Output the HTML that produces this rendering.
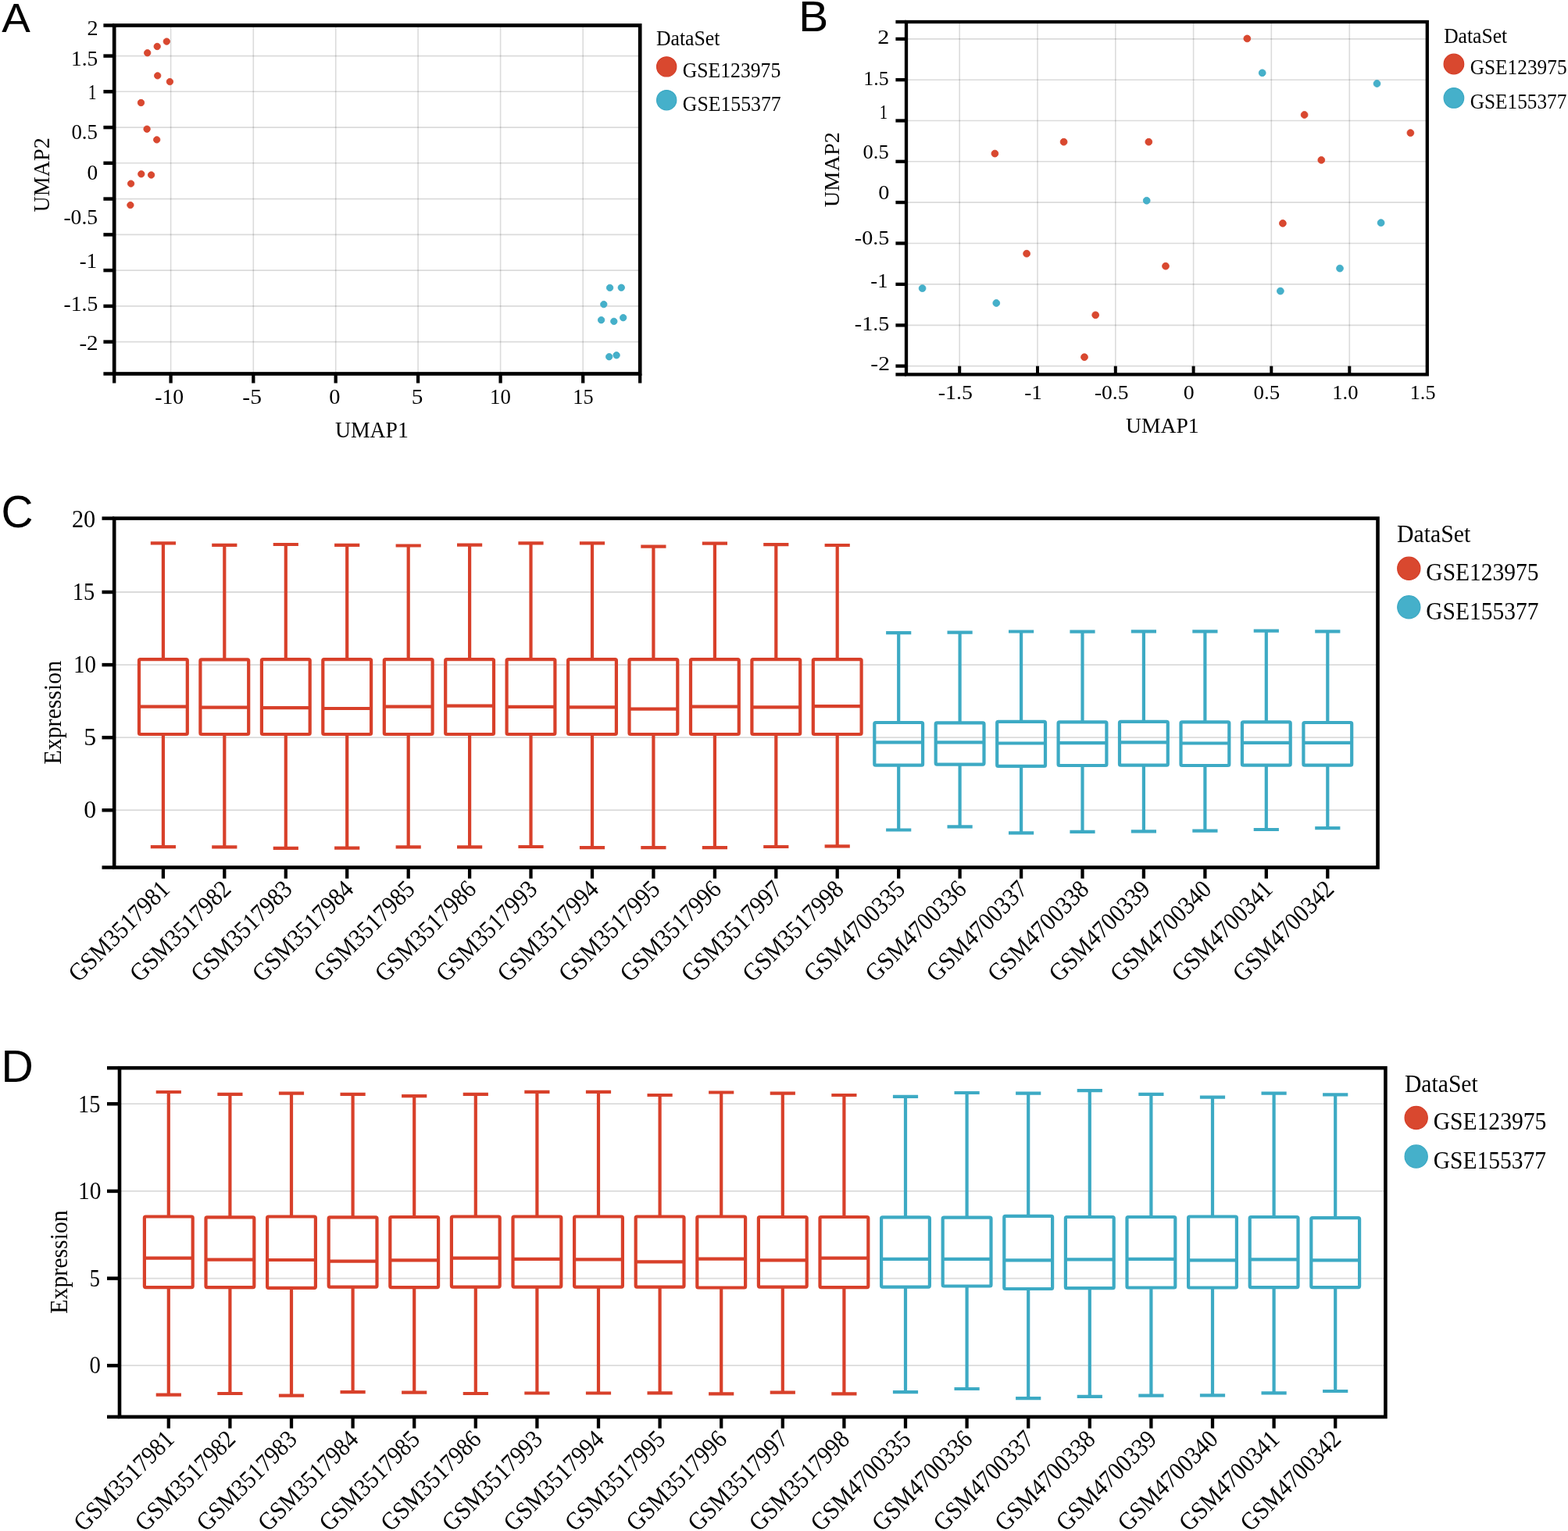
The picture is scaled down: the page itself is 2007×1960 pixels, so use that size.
<!DOCTYPE html>
<html><head><meta charset="utf-8"><title>Figure</title>
<style>
html,body{margin:0;padding:0;background:#fff;}
body{width:2007px;height:1960px;overflow:hidden;}
svg{display:block;}
text{fill:#000;}
</style></head>
<body>
<svg width="2007" height="1960" viewBox="0 0 2007 1960">
<rect x="0" y="0" width="2007" height="1960" fill="#fff"/>
<line x1="146.2" y1="71.6" x2="819.2" y2="71.6" stroke="rgba(0,0,0,0.14)" stroke-width="1.6" stroke-linecap="butt"/>
<line x1="146.2" y1="117.3" x2="819.2" y2="117.3" stroke="rgba(0,0,0,0.14)" stroke-width="1.6" stroke-linecap="butt"/>
<line x1="146.2" y1="163.1" x2="819.2" y2="163.1" stroke="rgba(0,0,0,0.14)" stroke-width="1.6" stroke-linecap="butt"/>
<line x1="146.2" y1="208.8" x2="819.2" y2="208.8" stroke="rgba(0,0,0,0.14)" stroke-width="1.6" stroke-linecap="butt"/>
<line x1="146.2" y1="254.6" x2="819.2" y2="254.6" stroke="rgba(0,0,0,0.14)" stroke-width="1.6" stroke-linecap="butt"/>
<line x1="146.2" y1="300.4" x2="819.2" y2="300.4" stroke="rgba(0,0,0,0.14)" stroke-width="1.6" stroke-linecap="butt"/>
<line x1="146.2" y1="346.1" x2="819.2" y2="346.1" stroke="rgba(0,0,0,0.14)" stroke-width="1.6" stroke-linecap="butt"/>
<line x1="146.2" y1="391.9" x2="819.2" y2="391.9" stroke="rgba(0,0,0,0.14)" stroke-width="1.6" stroke-linecap="butt"/>
<line x1="146.2" y1="437.6" x2="819.2" y2="437.6" stroke="rgba(0,0,0,0.14)" stroke-width="1.6" stroke-linecap="butt"/>
<line x1="218.6" y1="32.5" x2="218.6" y2="478.5" stroke="rgba(0,0,0,0.14)" stroke-width="1.6" stroke-linecap="butt"/>
<line x1="324.3" y1="32.5" x2="324.3" y2="478.5" stroke="rgba(0,0,0,0.14)" stroke-width="1.6" stroke-linecap="butt"/>
<line x1="429.7" y1="32.5" x2="429.7" y2="478.5" stroke="rgba(0,0,0,0.14)" stroke-width="1.6" stroke-linecap="butt"/>
<line x1="535.1" y1="32.5" x2="535.1" y2="478.5" stroke="rgba(0,0,0,0.14)" stroke-width="1.6" stroke-linecap="butt"/>
<line x1="640.6" y1="32.5" x2="640.6" y2="478.5" stroke="rgba(0,0,0,0.14)" stroke-width="1.6" stroke-linecap="butt"/>
<line x1="746.2" y1="32.5" x2="746.2" y2="478.5" stroke="rgba(0,0,0,0.14)" stroke-width="1.6" stroke-linecap="butt"/>
<line x1="132.4" y1="32.5" x2="146.2" y2="32.5" stroke="#000" stroke-width="4.5" stroke-linecap="butt"/>
<line x1="132.4" y1="71.6" x2="146.2" y2="71.6" stroke="#000" stroke-width="4.5" stroke-linecap="butt"/>
<line x1="132.4" y1="117.3" x2="146.2" y2="117.3" stroke="#000" stroke-width="4.5" stroke-linecap="butt"/>
<line x1="132.4" y1="163.1" x2="146.2" y2="163.1" stroke="#000" stroke-width="4.5" stroke-linecap="butt"/>
<line x1="132.4" y1="208.8" x2="146.2" y2="208.8" stroke="#000" stroke-width="4.5" stroke-linecap="butt"/>
<line x1="132.4" y1="254.6" x2="146.2" y2="254.6" stroke="#000" stroke-width="4.5" stroke-linecap="butt"/>
<line x1="132.4" y1="300.4" x2="146.2" y2="300.4" stroke="#000" stroke-width="4.5" stroke-linecap="butt"/>
<line x1="132.4" y1="346.1" x2="146.2" y2="346.1" stroke="#000" stroke-width="4.5" stroke-linecap="butt"/>
<line x1="132.4" y1="391.9" x2="146.2" y2="391.9" stroke="#000" stroke-width="4.5" stroke-linecap="butt"/>
<line x1="132.4" y1="437.6" x2="146.2" y2="437.6" stroke="#000" stroke-width="4.5" stroke-linecap="butt"/>
<line x1="132.4" y1="478.5" x2="146.2" y2="478.5" stroke="#000" stroke-width="4.5" stroke-linecap="butt"/>
<line x1="146.2" y1="478.5" x2="146.2" y2="490.5" stroke="#000" stroke-width="4.3" stroke-linecap="butt"/>
<line x1="218.6" y1="478.5" x2="218.6" y2="490.5" stroke="#000" stroke-width="4.3" stroke-linecap="butt"/>
<line x1="324.3" y1="478.5" x2="324.3" y2="490.5" stroke="#000" stroke-width="4.3" stroke-linecap="butt"/>
<line x1="429.7" y1="478.5" x2="429.7" y2="490.5" stroke="#000" stroke-width="4.3" stroke-linecap="butt"/>
<line x1="535.1" y1="478.5" x2="535.1" y2="490.5" stroke="#000" stroke-width="4.3" stroke-linecap="butt"/>
<line x1="640.6" y1="478.5" x2="640.6" y2="490.5" stroke="#000" stroke-width="4.3" stroke-linecap="butt"/>
<line x1="746.2" y1="478.5" x2="746.2" y2="490.5" stroke="#000" stroke-width="4.3" stroke-linecap="butt"/>
<line x1="819.2" y1="478.5" x2="819.2" y2="490.5" stroke="#000" stroke-width="4.3" stroke-linecap="butt"/>
<rect x="146.2" y="32.5" width="673.0" height="446.0" fill="none" stroke="#000" stroke-width="4.7"/>
<circle cx="853.2" cy="85.4" r="12.6" fill="#d9482f" stroke="#d43d27" stroke-width="1.2"/>
<circle cx="853.2" cy="128.2" r="12.6" fill="#45b0ca" stroke="#3aa8c3" stroke-width="1.2"/>
<circle cx="188.7" cy="67.7" r="4.2" fill="#d9482f" stroke="#d43d27" stroke-width="0.8"/>
<circle cx="201.2" cy="59.5" r="4.2" fill="#d9482f" stroke="#d43d27" stroke-width="0.8"/>
<circle cx="213.3" cy="53.1" r="4.2" fill="#d9482f" stroke="#d43d27" stroke-width="0.8"/>
<circle cx="201.7" cy="96.9" r="4.2" fill="#d9482f" stroke="#d43d27" stroke-width="0.8"/>
<circle cx="217.4" cy="104.6" r="4.2" fill="#d9482f" stroke="#d43d27" stroke-width="0.8"/>
<circle cx="180.5" cy="131.5" r="4.2" fill="#d9482f" stroke="#d43d27" stroke-width="0.8"/>
<circle cx="188.1" cy="165.2" r="4.2" fill="#d9482f" stroke="#d43d27" stroke-width="0.8"/>
<circle cx="200.7" cy="178.9" r="4.2" fill="#d9482f" stroke="#d43d27" stroke-width="0.8"/>
<circle cx="180.8" cy="222.8" r="4.2" fill="#d9482f" stroke="#d43d27" stroke-width="0.8"/>
<circle cx="193.6" cy="224.0" r="4.2" fill="#d9482f" stroke="#d43d27" stroke-width="0.8"/>
<circle cx="167.6" cy="235.1" r="4.2" fill="#d9482f" stroke="#d43d27" stroke-width="0.8"/>
<circle cx="166.9" cy="262.6" r="4.2" fill="#d9482f" stroke="#d43d27" stroke-width="0.8"/>
<circle cx="780.6" cy="368.4" r="4.2" fill="#45b0ca" stroke="#3aa8c3" stroke-width="0.8"/>
<circle cx="795.3" cy="368.2" r="4.2" fill="#45b0ca" stroke="#3aa8c3" stroke-width="0.8"/>
<circle cx="772.8" cy="389.6" r="4.2" fill="#45b0ca" stroke="#3aa8c3" stroke-width="0.8"/>
<circle cx="769.6" cy="409.7" r="4.2" fill="#45b0ca" stroke="#3aa8c3" stroke-width="0.8"/>
<circle cx="785.8" cy="411.4" r="4.2" fill="#45b0ca" stroke="#3aa8c3" stroke-width="0.8"/>
<circle cx="797.7" cy="406.7" r="4.2" fill="#45b0ca" stroke="#3aa8c3" stroke-width="0.8"/>
<circle cx="779.7" cy="456.7" r="4.2" fill="#45b0ca" stroke="#3aa8c3" stroke-width="0.8"/>
<circle cx="789.1" cy="454.8" r="4.2" fill="#45b0ca" stroke="#3aa8c3" stroke-width="0.8"/>
<line x1="1160.0" y1="49.9" x2="1826.8" y2="49.9" stroke="rgba(0,0,0,0.14)" stroke-width="1.6" stroke-linecap="butt"/>
<line x1="1160.0" y1="102.2" x2="1826.8" y2="102.2" stroke="rgba(0,0,0,0.14)" stroke-width="1.6" stroke-linecap="butt"/>
<line x1="1160.0" y1="154.5" x2="1826.8" y2="154.5" stroke="rgba(0,0,0,0.14)" stroke-width="1.6" stroke-linecap="butt"/>
<line x1="1160.0" y1="206.8" x2="1826.8" y2="206.8" stroke="rgba(0,0,0,0.14)" stroke-width="1.6" stroke-linecap="butt"/>
<line x1="1160.0" y1="259.1" x2="1826.8" y2="259.1" stroke="rgba(0,0,0,0.14)" stroke-width="1.6" stroke-linecap="butt"/>
<line x1="1160.0" y1="311.5" x2="1826.8" y2="311.5" stroke="rgba(0,0,0,0.14)" stroke-width="1.6" stroke-linecap="butt"/>
<line x1="1160.0" y1="363.9" x2="1826.8" y2="363.9" stroke="rgba(0,0,0,0.14)" stroke-width="1.6" stroke-linecap="butt"/>
<line x1="1160.0" y1="416.4" x2="1826.8" y2="416.4" stroke="rgba(0,0,0,0.14)" stroke-width="1.6" stroke-linecap="butt"/>
<line x1="1160.0" y1="468.6" x2="1826.8" y2="468.6" stroke="rgba(0,0,0,0.14)" stroke-width="1.6" stroke-linecap="butt"/>
<line x1="1228.2" y1="28.0" x2="1228.2" y2="479.4" stroke="rgba(0,0,0,0.14)" stroke-width="1.6" stroke-linecap="butt"/>
<line x1="1328.0" y1="28.0" x2="1328.0" y2="479.4" stroke="rgba(0,0,0,0.14)" stroke-width="1.6" stroke-linecap="butt"/>
<line x1="1427.8" y1="28.0" x2="1427.8" y2="479.4" stroke="rgba(0,0,0,0.14)" stroke-width="1.6" stroke-linecap="butt"/>
<line x1="1527.6" y1="28.0" x2="1527.6" y2="479.4" stroke="rgba(0,0,0,0.14)" stroke-width="1.6" stroke-linecap="butt"/>
<line x1="1627.3" y1="28.0" x2="1627.3" y2="479.4" stroke="rgba(0,0,0,0.14)" stroke-width="1.6" stroke-linecap="butt"/>
<line x1="1727.3" y1="28.0" x2="1727.3" y2="479.4" stroke="rgba(0,0,0,0.14)" stroke-width="1.6" stroke-linecap="butt"/>
<line x1="1146.4" y1="28.0" x2="1160.0" y2="28.0" stroke="#000" stroke-width="4.3" stroke-linecap="butt"/>
<line x1="1146.4" y1="49.9" x2="1160.0" y2="49.9" stroke="#000" stroke-width="4.3" stroke-linecap="butt"/>
<line x1="1146.4" y1="102.2" x2="1160.0" y2="102.2" stroke="#000" stroke-width="4.3" stroke-linecap="butt"/>
<line x1="1146.4" y1="154.5" x2="1160.0" y2="154.5" stroke="#000" stroke-width="4.3" stroke-linecap="butt"/>
<line x1="1146.4" y1="206.8" x2="1160.0" y2="206.8" stroke="#000" stroke-width="4.3" stroke-linecap="butt"/>
<line x1="1146.4" y1="259.1" x2="1160.0" y2="259.1" stroke="#000" stroke-width="4.3" stroke-linecap="butt"/>
<line x1="1146.4" y1="311.5" x2="1160.0" y2="311.5" stroke="#000" stroke-width="4.3" stroke-linecap="butt"/>
<line x1="1146.4" y1="363.9" x2="1160.0" y2="363.9" stroke="#000" stroke-width="4.3" stroke-linecap="butt"/>
<line x1="1146.4" y1="416.4" x2="1160.0" y2="416.4" stroke="#000" stroke-width="4.3" stroke-linecap="butt"/>
<line x1="1146.4" y1="468.6" x2="1160.0" y2="468.6" stroke="#000" stroke-width="4.3" stroke-linecap="butt"/>
<line x1="1146.4" y1="479.4" x2="1160.0" y2="479.4" stroke="#000" stroke-width="4.3" stroke-linecap="butt"/>
<line x1="1228.2" y1="479.4" x2="1228.2" y2="468.7" stroke="#000" stroke-width="4.0" stroke-linecap="butt"/>
<line x1="1328.0" y1="479.4" x2="1328.0" y2="468.7" stroke="#000" stroke-width="4.0" stroke-linecap="butt"/>
<line x1="1427.8" y1="479.4" x2="1427.8" y2="468.7" stroke="#000" stroke-width="4.0" stroke-linecap="butt"/>
<line x1="1527.6" y1="479.4" x2="1527.6" y2="468.7" stroke="#000" stroke-width="4.0" stroke-linecap="butt"/>
<line x1="1627.3" y1="479.4" x2="1627.3" y2="468.7" stroke="#000" stroke-width="4.0" stroke-linecap="butt"/>
<line x1="1727.3" y1="479.4" x2="1727.3" y2="468.7" stroke="#000" stroke-width="4.0" stroke-linecap="butt"/>
<rect x="1160.0" y="28.0" width="666.8" height="451.4" fill="none" stroke="#000" stroke-width="4.3"/>
<circle cx="1860.9" cy="82.0" r="12.8" fill="#d9482f" stroke="#d43d27" stroke-width="1.2"/>
<circle cx="1860.9" cy="125.4" r="12.8" fill="#45b0ca" stroke="#3aa8c3" stroke-width="1.2"/>
<circle cx="1273.4" cy="196.6" r="4.4" fill="#d9482f" stroke="#d43d27" stroke-width="0.8"/>
<circle cx="1361.6" cy="181.7" r="4.4" fill="#d9482f" stroke="#d43d27" stroke-width="0.8"/>
<circle cx="1470.3" cy="181.7" r="4.4" fill="#d9482f" stroke="#d43d27" stroke-width="0.8"/>
<circle cx="1314.1" cy="324.7" r="4.4" fill="#d9482f" stroke="#d43d27" stroke-width="0.8"/>
<circle cx="1492.0" cy="340.7" r="4.4" fill="#d9482f" stroke="#d43d27" stroke-width="0.8"/>
<circle cx="1402.2" cy="403.3" r="4.4" fill="#d9482f" stroke="#d43d27" stroke-width="0.8"/>
<circle cx="1388.0" cy="457.2" r="4.4" fill="#d9482f" stroke="#d43d27" stroke-width="0.8"/>
<circle cx="1596.3" cy="49.4" r="4.4" fill="#d9482f" stroke="#d43d27" stroke-width="0.8"/>
<circle cx="1669.6" cy="147.0" r="4.4" fill="#d9482f" stroke="#d43d27" stroke-width="0.8"/>
<circle cx="1805.4" cy="170.1" r="4.4" fill="#d9482f" stroke="#d43d27" stroke-width="0.8"/>
<circle cx="1691.3" cy="204.9" r="4.4" fill="#d9482f" stroke="#d43d27" stroke-width="0.8"/>
<circle cx="1641.9" cy="285.9" r="4.4" fill="#d9482f" stroke="#d43d27" stroke-width="0.8"/>
<circle cx="1467.7" cy="256.8" r="4.4" fill="#45b0ca" stroke="#3aa8c3" stroke-width="0.8"/>
<circle cx="1180.6" cy="369.1" r="4.4" fill="#45b0ca" stroke="#3aa8c3" stroke-width="0.8"/>
<circle cx="1275.3" cy="388.0" r="4.4" fill="#45b0ca" stroke="#3aa8c3" stroke-width="0.8"/>
<circle cx="1615.7" cy="93.3" r="4.4" fill="#45b0ca" stroke="#3aa8c3" stroke-width="0.8"/>
<circle cx="1762.5" cy="107.0" r="4.4" fill="#45b0ca" stroke="#3aa8c3" stroke-width="0.8"/>
<circle cx="1767.6" cy="285.2" r="4.4" fill="#45b0ca" stroke="#3aa8c3" stroke-width="0.8"/>
<circle cx="1715.0" cy="343.6" r="4.4" fill="#45b0ca" stroke="#3aa8c3" stroke-width="0.8"/>
<circle cx="1638.9" cy="372.6" r="4.4" fill="#45b0ca" stroke="#3aa8c3" stroke-width="0.8"/>
<line x1="146.2" y1="758.0" x2="1763.5" y2="758.0" stroke="rgba(0,0,0,0.14)" stroke-width="1.8" stroke-linecap="butt"/>
<line x1="146.2" y1="851.1" x2="1763.5" y2="851.1" stroke="rgba(0,0,0,0.14)" stroke-width="1.8" stroke-linecap="butt"/>
<line x1="146.2" y1="944.2" x2="1763.5" y2="944.2" stroke="rgba(0,0,0,0.14)" stroke-width="1.8" stroke-linecap="butt"/>
<line x1="146.2" y1="1037.2" x2="1763.5" y2="1037.2" stroke="rgba(0,0,0,0.14)" stroke-width="1.8" stroke-linecap="butt"/>
<line x1="130.5" y1="663.6" x2="146.2" y2="663.6" stroke="#000" stroke-width="4.5" stroke-linecap="butt"/>
<line x1="130.5" y1="758.0" x2="146.2" y2="758.0" stroke="#000" stroke-width="4.5" stroke-linecap="butt"/>
<line x1="130.5" y1="851.1" x2="146.2" y2="851.1" stroke="#000" stroke-width="4.5" stroke-linecap="butt"/>
<line x1="130.5" y1="944.2" x2="146.2" y2="944.2" stroke="#000" stroke-width="4.5" stroke-linecap="butt"/>
<line x1="130.5" y1="1037.2" x2="146.2" y2="1037.2" stroke="#000" stroke-width="4.5" stroke-linecap="butt"/>
<line x1="130.5" y1="1110.5" x2="146.2" y2="1110.5" stroke="#000" stroke-width="4.5" stroke-linecap="butt"/>
<line x1="208.9" y1="1110.5" x2="208.9" y2="1124.7" stroke="#000" stroke-width="4.3" stroke-linecap="butt"/>
<line x1="287.3" y1="1110.5" x2="287.3" y2="1124.7" stroke="#000" stroke-width="4.3" stroke-linecap="butt"/>
<line x1="365.8" y1="1110.5" x2="365.8" y2="1124.7" stroke="#000" stroke-width="4.3" stroke-linecap="butt"/>
<line x1="444.2" y1="1110.5" x2="444.2" y2="1124.7" stroke="#000" stroke-width="4.3" stroke-linecap="butt"/>
<line x1="522.7" y1="1110.5" x2="522.7" y2="1124.7" stroke="#000" stroke-width="4.3" stroke-linecap="butt"/>
<line x1="601.1" y1="1110.5" x2="601.1" y2="1124.7" stroke="#000" stroke-width="4.3" stroke-linecap="butt"/>
<line x1="679.5" y1="1110.5" x2="679.5" y2="1124.7" stroke="#000" stroke-width="4.3" stroke-linecap="butt"/>
<line x1="758.0" y1="1110.5" x2="758.0" y2="1124.7" stroke="#000" stroke-width="4.3" stroke-linecap="butt"/>
<line x1="836.4" y1="1110.5" x2="836.4" y2="1124.7" stroke="#000" stroke-width="4.3" stroke-linecap="butt"/>
<line x1="914.9" y1="1110.5" x2="914.9" y2="1124.7" stroke="#000" stroke-width="4.3" stroke-linecap="butt"/>
<line x1="993.3" y1="1110.5" x2="993.3" y2="1124.7" stroke="#000" stroke-width="4.3" stroke-linecap="butt"/>
<line x1="1071.7" y1="1110.5" x2="1071.7" y2="1124.7" stroke="#000" stroke-width="4.3" stroke-linecap="butt"/>
<line x1="1150.2" y1="1110.5" x2="1150.2" y2="1124.7" stroke="#000" stroke-width="4.3" stroke-linecap="butt"/>
<line x1="1228.6" y1="1110.5" x2="1228.6" y2="1124.7" stroke="#000" stroke-width="4.3" stroke-linecap="butt"/>
<line x1="1307.1" y1="1110.5" x2="1307.1" y2="1124.7" stroke="#000" stroke-width="4.3" stroke-linecap="butt"/>
<line x1="1385.5" y1="1110.5" x2="1385.5" y2="1124.7" stroke="#000" stroke-width="4.3" stroke-linecap="butt"/>
<line x1="1463.9" y1="1110.5" x2="1463.9" y2="1124.7" stroke="#000" stroke-width="4.3" stroke-linecap="butt"/>
<line x1="1542.4" y1="1110.5" x2="1542.4" y2="1124.7" stroke="#000" stroke-width="4.3" stroke-linecap="butt"/>
<line x1="1620.8" y1="1110.5" x2="1620.8" y2="1124.7" stroke="#000" stroke-width="4.3" stroke-linecap="butt"/>
<line x1="1699.3" y1="1110.5" x2="1699.3" y2="1124.7" stroke="#000" stroke-width="4.3" stroke-linecap="butt"/>
<line x1="208.9" y1="695.3" x2="208.9" y2="844.1" stroke="#d8402a" stroke-width="4.2" stroke-linecap="butt"/>
<line x1="208.9" y1="940.0" x2="208.9" y2="1084.2" stroke="#d8402a" stroke-width="4.2" stroke-linecap="butt"/>
<line x1="194.9" y1="695.3" x2="222.9" y2="695.3" stroke="#d8402a" stroke-width="4.2" stroke-linecap="square"/>
<line x1="194.9" y1="1084.2" x2="222.9" y2="1084.2" stroke="#d8402a" stroke-width="4.2" stroke-linecap="square"/>
<rect x="178.0" y="844.1" width="61.8" height="95.9" rx="1.5" fill="none" stroke="#d8402a" stroke-width="4.2" stroke-linejoin="round"/>
<line x1="178.0" y1="904.6" x2="239.8" y2="904.6" stroke="#d8402a" stroke-width="4.2" stroke-linecap="butt"/>
<line x1="287.3" y1="697.8" x2="287.3" y2="844.3" stroke="#d8402a" stroke-width="4.2" stroke-linecap="butt"/>
<line x1="287.3" y1="940.0" x2="287.3" y2="1084.4" stroke="#d8402a" stroke-width="4.2" stroke-linecap="butt"/>
<line x1="273.3" y1="697.8" x2="301.3" y2="697.8" stroke="#d8402a" stroke-width="4.2" stroke-linecap="square"/>
<line x1="273.3" y1="1084.4" x2="301.3" y2="1084.4" stroke="#d8402a" stroke-width="4.2" stroke-linecap="square"/>
<rect x="256.4" y="844.3" width="61.8" height="95.7" rx="1.5" fill="none" stroke="#d8402a" stroke-width="4.2" stroke-linejoin="round"/>
<line x1="256.4" y1="905.6" x2="318.2" y2="905.6" stroke="#d8402a" stroke-width="4.2" stroke-linecap="butt"/>
<line x1="365.8" y1="697.0" x2="365.8" y2="844.1" stroke="#d8402a" stroke-width="4.2" stroke-linecap="butt"/>
<line x1="365.8" y1="940.0" x2="365.8" y2="1085.8" stroke="#d8402a" stroke-width="4.2" stroke-linecap="butt"/>
<line x1="351.8" y1="697.0" x2="379.8" y2="697.0" stroke="#d8402a" stroke-width="4.2" stroke-linecap="square"/>
<line x1="351.8" y1="1085.8" x2="379.8" y2="1085.8" stroke="#d8402a" stroke-width="4.2" stroke-linecap="square"/>
<rect x="334.9" y="844.1" width="61.8" height="95.9" rx="1.5" fill="none" stroke="#d8402a" stroke-width="4.2" stroke-linejoin="round"/>
<line x1="334.9" y1="906.2" x2="396.7" y2="906.2" stroke="#d8402a" stroke-width="4.2" stroke-linecap="butt"/>
<line x1="444.2" y1="697.8" x2="444.2" y2="844.1" stroke="#d8402a" stroke-width="4.2" stroke-linecap="butt"/>
<line x1="444.2" y1="940.0" x2="444.2" y2="1085.6" stroke="#d8402a" stroke-width="4.2" stroke-linecap="butt"/>
<line x1="430.2" y1="697.8" x2="458.2" y2="697.8" stroke="#d8402a" stroke-width="4.2" stroke-linecap="square"/>
<line x1="430.2" y1="1085.6" x2="458.2" y2="1085.6" stroke="#d8402a" stroke-width="4.2" stroke-linecap="square"/>
<rect x="413.3" y="844.1" width="61.8" height="95.9" rx="1.5" fill="none" stroke="#d8402a" stroke-width="4.2" stroke-linejoin="round"/>
<line x1="413.3" y1="907.0" x2="475.1" y2="907.0" stroke="#d8402a" stroke-width="4.2" stroke-linecap="butt"/>
<line x1="522.7" y1="698.5" x2="522.7" y2="844.1" stroke="#d8402a" stroke-width="4.2" stroke-linecap="butt"/>
<line x1="522.7" y1="940.0" x2="522.7" y2="1084.4" stroke="#d8402a" stroke-width="4.2" stroke-linecap="butt"/>
<line x1="508.7" y1="698.5" x2="536.7" y2="698.5" stroke="#d8402a" stroke-width="4.2" stroke-linecap="square"/>
<line x1="508.7" y1="1084.4" x2="536.7" y2="1084.4" stroke="#d8402a" stroke-width="4.2" stroke-linecap="square"/>
<rect x="491.8" y="844.1" width="61.8" height="95.9" rx="1.5" fill="none" stroke="#d8402a" stroke-width="4.2" stroke-linejoin="round"/>
<line x1="491.8" y1="904.6" x2="553.6" y2="904.6" stroke="#d8402a" stroke-width="4.2" stroke-linecap="butt"/>
<line x1="601.1" y1="697.6" x2="601.1" y2="844.1" stroke="#d8402a" stroke-width="4.2" stroke-linecap="butt"/>
<line x1="601.1" y1="940.0" x2="601.1" y2="1084.4" stroke="#d8402a" stroke-width="4.2" stroke-linecap="butt"/>
<line x1="587.1" y1="697.6" x2="615.1" y2="697.6" stroke="#d8402a" stroke-width="4.2" stroke-linecap="square"/>
<line x1="587.1" y1="1084.4" x2="615.1" y2="1084.4" stroke="#d8402a" stroke-width="4.2" stroke-linecap="square"/>
<rect x="570.2" y="844.1" width="61.8" height="95.9" rx="1.5" fill="none" stroke="#d8402a" stroke-width="4.2" stroke-linejoin="round"/>
<line x1="570.2" y1="903.7" x2="632.0" y2="903.7" stroke="#d8402a" stroke-width="4.2" stroke-linecap="butt"/>
<line x1="679.5" y1="695.3" x2="679.5" y2="844.1" stroke="#d8402a" stroke-width="4.2" stroke-linecap="butt"/>
<line x1="679.5" y1="940.0" x2="679.5" y2="1084.0" stroke="#d8402a" stroke-width="4.2" stroke-linecap="butt"/>
<line x1="665.5" y1="695.3" x2="693.5" y2="695.3" stroke="#d8402a" stroke-width="4.2" stroke-linecap="square"/>
<line x1="665.5" y1="1084.0" x2="693.5" y2="1084.0" stroke="#d8402a" stroke-width="4.2" stroke-linecap="square"/>
<rect x="648.6" y="844.1" width="61.8" height="95.9" rx="1.5" fill="none" stroke="#d8402a" stroke-width="4.2" stroke-linejoin="round"/>
<line x1="648.6" y1="904.9" x2="710.4" y2="904.9" stroke="#d8402a" stroke-width="4.2" stroke-linecap="butt"/>
<line x1="758.0" y1="695.3" x2="758.0" y2="844.1" stroke="#d8402a" stroke-width="4.2" stroke-linecap="butt"/>
<line x1="758.0" y1="940.0" x2="758.0" y2="1085.1" stroke="#d8402a" stroke-width="4.2" stroke-linecap="butt"/>
<line x1="744.0" y1="695.3" x2="772.0" y2="695.3" stroke="#d8402a" stroke-width="4.2" stroke-linecap="square"/>
<line x1="744.0" y1="1085.1" x2="772.0" y2="1085.1" stroke="#d8402a" stroke-width="4.2" stroke-linecap="square"/>
<rect x="727.1" y="844.1" width="61.8" height="95.9" rx="1.5" fill="none" stroke="#d8402a" stroke-width="4.2" stroke-linejoin="round"/>
<line x1="727.1" y1="905.3" x2="788.9" y2="905.3" stroke="#d8402a" stroke-width="4.2" stroke-linecap="butt"/>
<line x1="836.4" y1="699.6" x2="836.4" y2="844.1" stroke="#d8402a" stroke-width="4.2" stroke-linecap="butt"/>
<line x1="836.4" y1="940.0" x2="836.4" y2="1085.1" stroke="#d8402a" stroke-width="4.2" stroke-linecap="butt"/>
<line x1="822.4" y1="699.6" x2="850.4" y2="699.6" stroke="#d8402a" stroke-width="4.2" stroke-linecap="square"/>
<line x1="822.4" y1="1085.1" x2="850.4" y2="1085.1" stroke="#d8402a" stroke-width="4.2" stroke-linecap="square"/>
<rect x="805.5" y="844.1" width="61.8" height="95.9" rx="1.5" fill="none" stroke="#d8402a" stroke-width="4.2" stroke-linejoin="round"/>
<line x1="805.5" y1="907.6" x2="867.3" y2="907.6" stroke="#d8402a" stroke-width="4.2" stroke-linecap="butt"/>
<line x1="914.9" y1="695.7" x2="914.9" y2="844.1" stroke="#d8402a" stroke-width="4.2" stroke-linecap="butt"/>
<line x1="914.9" y1="940.0" x2="914.9" y2="1085.1" stroke="#d8402a" stroke-width="4.2" stroke-linecap="butt"/>
<line x1="900.9" y1="695.7" x2="928.9" y2="695.7" stroke="#d8402a" stroke-width="4.2" stroke-linecap="square"/>
<line x1="900.9" y1="1085.1" x2="928.9" y2="1085.1" stroke="#d8402a" stroke-width="4.2" stroke-linecap="square"/>
<rect x="884.0" y="844.1" width="61.8" height="95.9" rx="1.5" fill="none" stroke="#d8402a" stroke-width="4.2" stroke-linejoin="round"/>
<line x1="884.0" y1="904.6" x2="945.8" y2="904.6" stroke="#d8402a" stroke-width="4.2" stroke-linecap="butt"/>
<line x1="993.3" y1="697.1" x2="993.3" y2="844.1" stroke="#d8402a" stroke-width="4.2" stroke-linecap="butt"/>
<line x1="993.3" y1="940.0" x2="993.3" y2="1084.0" stroke="#d8402a" stroke-width="4.2" stroke-linecap="butt"/>
<line x1="979.3" y1="697.1" x2="1007.3" y2="697.1" stroke="#d8402a" stroke-width="4.2" stroke-linecap="square"/>
<line x1="979.3" y1="1084.0" x2="1007.3" y2="1084.0" stroke="#d8402a" stroke-width="4.2" stroke-linecap="square"/>
<rect x="962.4" y="844.1" width="61.8" height="95.9" rx="1.5" fill="none" stroke="#d8402a" stroke-width="4.2" stroke-linejoin="round"/>
<line x1="962.4" y1="905.3" x2="1024.2" y2="905.3" stroke="#d8402a" stroke-width="4.2" stroke-linecap="butt"/>
<line x1="1071.7" y1="698.0" x2="1071.7" y2="844.1" stroke="#d8402a" stroke-width="4.2" stroke-linecap="butt"/>
<line x1="1071.7" y1="940.0" x2="1071.7" y2="1083.3" stroke="#d8402a" stroke-width="4.2" stroke-linecap="butt"/>
<line x1="1057.7" y1="698.0" x2="1085.7" y2="698.0" stroke="#d8402a" stroke-width="4.2" stroke-linecap="square"/>
<line x1="1057.7" y1="1083.3" x2="1085.7" y2="1083.3" stroke="#d8402a" stroke-width="4.2" stroke-linecap="square"/>
<rect x="1040.8" y="844.1" width="61.8" height="95.9" rx="1.5" fill="none" stroke="#d8402a" stroke-width="4.2" stroke-linejoin="round"/>
<line x1="1040.8" y1="904.2" x2="1102.6" y2="904.2" stroke="#d8402a" stroke-width="4.2" stroke-linecap="butt"/>
<line x1="1150.2" y1="810.1" x2="1150.2" y2="925.0" stroke="#3daac4" stroke-width="4.2" stroke-linecap="butt"/>
<line x1="1150.2" y1="979.7" x2="1150.2" y2="1062.5" stroke="#3daac4" stroke-width="4.2" stroke-linecap="butt"/>
<line x1="1136.2" y1="810.1" x2="1164.2" y2="810.1" stroke="#3daac4" stroke-width="4.2" stroke-linecap="square"/>
<line x1="1136.2" y1="1062.5" x2="1164.2" y2="1062.5" stroke="#3daac4" stroke-width="4.2" stroke-linecap="square"/>
<rect x="1119.3" y="925.0" width="61.8" height="54.7" rx="1.5" fill="none" stroke="#3daac4" stroke-width="4.2" stroke-linejoin="round"/>
<line x1="1119.3" y1="950.4" x2="1181.1" y2="950.4" stroke="#3daac4" stroke-width="4.2" stroke-linecap="butt"/>
<line x1="1228.6" y1="809.7" x2="1228.6" y2="925.4" stroke="#3daac4" stroke-width="4.2" stroke-linecap="butt"/>
<line x1="1228.6" y1="978.6" x2="1228.6" y2="1058.3" stroke="#3daac4" stroke-width="4.2" stroke-linecap="butt"/>
<line x1="1214.6" y1="809.7" x2="1242.6" y2="809.7" stroke="#3daac4" stroke-width="4.2" stroke-linecap="square"/>
<line x1="1214.6" y1="1058.3" x2="1242.6" y2="1058.3" stroke="#3daac4" stroke-width="4.2" stroke-linecap="square"/>
<rect x="1197.7" y="925.4" width="61.8" height="53.2" rx="1.5" fill="none" stroke="#3daac4" stroke-width="4.2" stroke-linejoin="round"/>
<line x1="1197.7" y1="950.4" x2="1259.5" y2="950.4" stroke="#3daac4" stroke-width="4.2" stroke-linecap="butt"/>
<line x1="1307.1" y1="808.5" x2="1307.1" y2="923.8" stroke="#3daac4" stroke-width="4.2" stroke-linecap="butt"/>
<line x1="1307.1" y1="980.9" x2="1307.1" y2="1066.4" stroke="#3daac4" stroke-width="4.2" stroke-linecap="butt"/>
<line x1="1293.1" y1="808.5" x2="1321.1" y2="808.5" stroke="#3daac4" stroke-width="4.2" stroke-linecap="square"/>
<line x1="1293.1" y1="1066.4" x2="1321.1" y2="1066.4" stroke="#3daac4" stroke-width="4.2" stroke-linecap="square"/>
<rect x="1276.2" y="923.8" width="61.8" height="57.1" rx="1.5" fill="none" stroke="#3daac4" stroke-width="4.2" stroke-linejoin="round"/>
<line x1="1276.2" y1="951.5" x2="1338.0" y2="951.5" stroke="#3daac4" stroke-width="4.2" stroke-linecap="butt"/>
<line x1="1385.5" y1="808.7" x2="1385.5" y2="924.3" stroke="#3daac4" stroke-width="4.2" stroke-linecap="butt"/>
<line x1="1385.5" y1="980.0" x2="1385.5" y2="1064.8" stroke="#3daac4" stroke-width="4.2" stroke-linecap="butt"/>
<line x1="1371.5" y1="808.7" x2="1399.5" y2="808.7" stroke="#3daac4" stroke-width="4.2" stroke-linecap="square"/>
<line x1="1371.5" y1="1064.8" x2="1399.5" y2="1064.8" stroke="#3daac4" stroke-width="4.2" stroke-linecap="square"/>
<rect x="1354.6" y="924.3" width="61.8" height="55.7" rx="1.5" fill="none" stroke="#3daac4" stroke-width="4.2" stroke-linejoin="round"/>
<line x1="1354.6" y1="951.1" x2="1416.4" y2="951.1" stroke="#3daac4" stroke-width="4.2" stroke-linecap="butt"/>
<line x1="1463.9" y1="808.3" x2="1463.9" y2="923.8" stroke="#3daac4" stroke-width="4.2" stroke-linecap="butt"/>
<line x1="1463.9" y1="979.7" x2="1463.9" y2="1064.3" stroke="#3daac4" stroke-width="4.2" stroke-linecap="butt"/>
<line x1="1449.9" y1="808.3" x2="1477.9" y2="808.3" stroke="#3daac4" stroke-width="4.2" stroke-linecap="square"/>
<line x1="1449.9" y1="1064.3" x2="1477.9" y2="1064.3" stroke="#3daac4" stroke-width="4.2" stroke-linecap="square"/>
<rect x="1433.0" y="923.8" width="61.8" height="55.9" rx="1.5" fill="none" stroke="#3daac4" stroke-width="4.2" stroke-linejoin="round"/>
<line x1="1433.0" y1="950.4" x2="1494.8" y2="950.4" stroke="#3daac4" stroke-width="4.2" stroke-linecap="butt"/>
<line x1="1542.4" y1="808.3" x2="1542.4" y2="924.3" stroke="#3daac4" stroke-width="4.2" stroke-linecap="butt"/>
<line x1="1542.4" y1="980.0" x2="1542.4" y2="1063.6" stroke="#3daac4" stroke-width="4.2" stroke-linecap="butt"/>
<line x1="1528.4" y1="808.3" x2="1556.4" y2="808.3" stroke="#3daac4" stroke-width="4.2" stroke-linecap="square"/>
<line x1="1528.4" y1="1063.6" x2="1556.4" y2="1063.6" stroke="#3daac4" stroke-width="4.2" stroke-linecap="square"/>
<rect x="1511.5" y="924.3" width="61.8" height="55.7" rx="1.5" fill="none" stroke="#3daac4" stroke-width="4.2" stroke-linejoin="round"/>
<line x1="1511.5" y1="951.5" x2="1573.3" y2="951.5" stroke="#3daac4" stroke-width="4.2" stroke-linecap="butt"/>
<line x1="1620.8" y1="807.6" x2="1620.8" y2="924.3" stroke="#3daac4" stroke-width="4.2" stroke-linecap="butt"/>
<line x1="1620.8" y1="979.7" x2="1620.8" y2="1062.0" stroke="#3daac4" stroke-width="4.2" stroke-linecap="butt"/>
<line x1="1606.8" y1="807.6" x2="1634.8" y2="807.6" stroke="#3daac4" stroke-width="4.2" stroke-linecap="square"/>
<line x1="1606.8" y1="1062.0" x2="1634.8" y2="1062.0" stroke="#3daac4" stroke-width="4.2" stroke-linecap="square"/>
<rect x="1589.9" y="924.3" width="61.8" height="55.4" rx="1.5" fill="none" stroke="#3daac4" stroke-width="4.2" stroke-linejoin="round"/>
<line x1="1589.9" y1="950.9" x2="1651.7" y2="950.9" stroke="#3daac4" stroke-width="4.2" stroke-linecap="butt"/>
<line x1="1699.3" y1="808.3" x2="1699.3" y2="925.0" stroke="#3daac4" stroke-width="4.2" stroke-linecap="butt"/>
<line x1="1699.3" y1="979.7" x2="1699.3" y2="1060.2" stroke="#3daac4" stroke-width="4.2" stroke-linecap="butt"/>
<line x1="1685.3" y1="808.3" x2="1713.3" y2="808.3" stroke="#3daac4" stroke-width="4.2" stroke-linecap="square"/>
<line x1="1685.3" y1="1060.2" x2="1713.3" y2="1060.2" stroke="#3daac4" stroke-width="4.2" stroke-linecap="square"/>
<rect x="1668.4" y="925.0" width="61.8" height="54.7" rx="1.5" fill="none" stroke="#3daac4" stroke-width="4.2" stroke-linejoin="round"/>
<line x1="1668.4" y1="950.9" x2="1730.2" y2="950.9" stroke="#3daac4" stroke-width="4.2" stroke-linecap="butt"/>
<rect x="146.2" y="663.6" width="1617.3" height="446.9" fill="none" stroke="#000" stroke-width="4.6"/>
<circle cx="1803.3" cy="727.8" r="14.6" fill="#d9482f" stroke="#d43d27" stroke-width="1.2"/>
<circle cx="1803.3" cy="777.3" r="14.6" fill="#45b0ca" stroke="#3aa8c3" stroke-width="1.2"/>
<text transform="translate(218.90,1140.2) rotate(-45)" font-size="32.4" text-anchor="end" font-family="'Liberation Serif', 'Times New Roman', serif" textLength="167.5" lengthAdjust="spacingAndGlyphs">GSM3517981</text>
<text transform="translate(297.34,1140.2) rotate(-45)" font-size="32.4" text-anchor="end" font-family="'Liberation Serif', 'Times New Roman', serif" textLength="167.5" lengthAdjust="spacingAndGlyphs">GSM3517982</text>
<text transform="translate(375.78,1140.2) rotate(-45)" font-size="32.4" text-anchor="end" font-family="'Liberation Serif', 'Times New Roman', serif" textLength="167.5" lengthAdjust="spacingAndGlyphs">GSM3517983</text>
<text transform="translate(454.22,1140.2) rotate(-45)" font-size="32.4" text-anchor="end" font-family="'Liberation Serif', 'Times New Roman', serif" textLength="167.5" lengthAdjust="spacingAndGlyphs">GSM3517984</text>
<text transform="translate(532.66,1140.2) rotate(-45)" font-size="32.4" text-anchor="end" font-family="'Liberation Serif', 'Times New Roman', serif" textLength="167.5" lengthAdjust="spacingAndGlyphs">GSM3517985</text>
<text transform="translate(611.10,1140.2) rotate(-45)" font-size="32.4" text-anchor="end" font-family="'Liberation Serif', 'Times New Roman', serif" textLength="167.5" lengthAdjust="spacingAndGlyphs">GSM3517986</text>
<text transform="translate(689.54,1140.2) rotate(-45)" font-size="32.4" text-anchor="end" font-family="'Liberation Serif', 'Times New Roman', serif" textLength="167.5" lengthAdjust="spacingAndGlyphs">GSM3517993</text>
<text transform="translate(767.98,1140.2) rotate(-45)" font-size="32.4" text-anchor="end" font-family="'Liberation Serif', 'Times New Roman', serif" textLength="167.5" lengthAdjust="spacingAndGlyphs">GSM3517994</text>
<text transform="translate(846.42,1140.2) rotate(-45)" font-size="32.4" text-anchor="end" font-family="'Liberation Serif', 'Times New Roman', serif" textLength="167.5" lengthAdjust="spacingAndGlyphs">GSM3517995</text>
<text transform="translate(924.86,1140.2) rotate(-45)" font-size="32.4" text-anchor="end" font-family="'Liberation Serif', 'Times New Roman', serif" textLength="167.5" lengthAdjust="spacingAndGlyphs">GSM3517996</text>
<text transform="translate(1003.30,1140.2) rotate(-45)" font-size="32.4" text-anchor="end" font-family="'Liberation Serif', 'Times New Roman', serif" textLength="167.5" lengthAdjust="spacingAndGlyphs">GSM3517997</text>
<text transform="translate(1081.74,1140.2) rotate(-45)" font-size="32.4" text-anchor="end" font-family="'Liberation Serif', 'Times New Roman', serif" textLength="167.5" lengthAdjust="spacingAndGlyphs">GSM3517998</text>
<text transform="translate(1160.18,1140.2) rotate(-45)" font-size="32.4" text-anchor="end" font-family="'Liberation Serif', 'Times New Roman', serif" textLength="167.5" lengthAdjust="spacingAndGlyphs">GSM4700335</text>
<text transform="translate(1238.62,1140.2) rotate(-45)" font-size="32.4" text-anchor="end" font-family="'Liberation Serif', 'Times New Roman', serif" textLength="167.5" lengthAdjust="spacingAndGlyphs">GSM4700336</text>
<text transform="translate(1317.06,1140.2) rotate(-45)" font-size="32.4" text-anchor="end" font-family="'Liberation Serif', 'Times New Roman', serif" textLength="167.5" lengthAdjust="spacingAndGlyphs">GSM4700337</text>
<text transform="translate(1395.50,1140.2) rotate(-45)" font-size="32.4" text-anchor="end" font-family="'Liberation Serif', 'Times New Roman', serif" textLength="167.5" lengthAdjust="spacingAndGlyphs">GSM4700338</text>
<text transform="translate(1473.94,1140.2) rotate(-45)" font-size="32.4" text-anchor="end" font-family="'Liberation Serif', 'Times New Roman', serif" textLength="167.5" lengthAdjust="spacingAndGlyphs">GSM4700339</text>
<text transform="translate(1552.38,1140.2) rotate(-45)" font-size="32.4" text-anchor="end" font-family="'Liberation Serif', 'Times New Roman', serif" textLength="167.5" lengthAdjust="spacingAndGlyphs">GSM4700340</text>
<text transform="translate(1630.82,1140.2) rotate(-45)" font-size="32.4" text-anchor="end" font-family="'Liberation Serif', 'Times New Roman', serif" textLength="167.5" lengthAdjust="spacingAndGlyphs">GSM4700341</text>
<text transform="translate(1709.26,1140.2) rotate(-45)" font-size="32.4" text-anchor="end" font-family="'Liberation Serif', 'Times New Roman', serif" textLength="167.5" lengthAdjust="spacingAndGlyphs">GSM4700342</text>
<line x1="153.0" y1="1413.2" x2="1773.4" y2="1413.2" stroke="rgba(0,0,0,0.14)" stroke-width="1.8" stroke-linecap="butt"/>
<line x1="153.0" y1="1524.9" x2="1773.4" y2="1524.9" stroke="rgba(0,0,0,0.14)" stroke-width="1.8" stroke-linecap="butt"/>
<line x1="153.0" y1="1636.6" x2="1773.4" y2="1636.6" stroke="rgba(0,0,0,0.14)" stroke-width="1.8" stroke-linecap="butt"/>
<line x1="153.0" y1="1748.2" x2="1773.4" y2="1748.2" stroke="rgba(0,0,0,0.14)" stroke-width="1.8" stroke-linecap="butt"/>
<line x1="137.0" y1="1367.2" x2="153.0" y2="1367.2" stroke="#000" stroke-width="4.5" stroke-linecap="butt"/>
<line x1="137.0" y1="1413.2" x2="153.0" y2="1413.2" stroke="#000" stroke-width="4.5" stroke-linecap="butt"/>
<line x1="137.0" y1="1524.9" x2="153.0" y2="1524.9" stroke="#000" stroke-width="4.5" stroke-linecap="butt"/>
<line x1="137.0" y1="1636.6" x2="153.0" y2="1636.6" stroke="#000" stroke-width="4.5" stroke-linecap="butt"/>
<line x1="137.0" y1="1748.2" x2="153.0" y2="1748.2" stroke="#000" stroke-width="4.5" stroke-linecap="butt"/>
<line x1="137.0" y1="1813.9" x2="153.0" y2="1813.9" stroke="#000" stroke-width="4.5" stroke-linecap="butt"/>
<line x1="215.8" y1="1813.9" x2="215.8" y2="1828.6" stroke="#000" stroke-width="4.3" stroke-linecap="butt"/>
<line x1="294.4" y1="1813.9" x2="294.4" y2="1828.6" stroke="#000" stroke-width="4.3" stroke-linecap="butt"/>
<line x1="373.0" y1="1813.9" x2="373.0" y2="1828.6" stroke="#000" stroke-width="4.3" stroke-linecap="butt"/>
<line x1="451.6" y1="1813.9" x2="451.6" y2="1828.6" stroke="#000" stroke-width="4.3" stroke-linecap="butt"/>
<line x1="530.2" y1="1813.9" x2="530.2" y2="1828.6" stroke="#000" stroke-width="4.3" stroke-linecap="butt"/>
<line x1="608.8" y1="1813.9" x2="608.8" y2="1828.6" stroke="#000" stroke-width="4.3" stroke-linecap="butt"/>
<line x1="687.4" y1="1813.9" x2="687.4" y2="1828.6" stroke="#000" stroke-width="4.3" stroke-linecap="butt"/>
<line x1="766.0" y1="1813.9" x2="766.0" y2="1828.6" stroke="#000" stroke-width="4.3" stroke-linecap="butt"/>
<line x1="844.6" y1="1813.9" x2="844.6" y2="1828.6" stroke="#000" stroke-width="4.3" stroke-linecap="butt"/>
<line x1="923.2" y1="1813.9" x2="923.2" y2="1828.6" stroke="#000" stroke-width="4.3" stroke-linecap="butt"/>
<line x1="1001.8" y1="1813.9" x2="1001.8" y2="1828.6" stroke="#000" stroke-width="4.3" stroke-linecap="butt"/>
<line x1="1080.4" y1="1813.9" x2="1080.4" y2="1828.6" stroke="#000" stroke-width="4.3" stroke-linecap="butt"/>
<line x1="1159.0" y1="1813.9" x2="1159.0" y2="1828.6" stroke="#000" stroke-width="4.3" stroke-linecap="butt"/>
<line x1="1237.6" y1="1813.9" x2="1237.6" y2="1828.6" stroke="#000" stroke-width="4.3" stroke-linecap="butt"/>
<line x1="1316.2" y1="1813.9" x2="1316.2" y2="1828.6" stroke="#000" stroke-width="4.3" stroke-linecap="butt"/>
<line x1="1394.8" y1="1813.9" x2="1394.8" y2="1828.6" stroke="#000" stroke-width="4.3" stroke-linecap="butt"/>
<line x1="1473.4" y1="1813.9" x2="1473.4" y2="1828.6" stroke="#000" stroke-width="4.3" stroke-linecap="butt"/>
<line x1="1552.0" y1="1813.9" x2="1552.0" y2="1828.6" stroke="#000" stroke-width="4.3" stroke-linecap="butt"/>
<line x1="1630.6" y1="1813.9" x2="1630.6" y2="1828.6" stroke="#000" stroke-width="4.3" stroke-linecap="butt"/>
<line x1="1709.2" y1="1813.9" x2="1709.2" y2="1828.6" stroke="#000" stroke-width="4.3" stroke-linecap="butt"/>
<line x1="215.8" y1="1398.0" x2="215.8" y2="1557.5" stroke="#d8402a" stroke-width="4.2" stroke-linecap="butt"/>
<line x1="215.8" y1="1648.1" x2="215.8" y2="1785.6" stroke="#d8402a" stroke-width="4.2" stroke-linecap="butt"/>
<line x1="201.8" y1="1398.0" x2="229.8" y2="1398.0" stroke="#d8402a" stroke-width="4.2" stroke-linecap="square"/>
<line x1="201.8" y1="1785.6" x2="229.8" y2="1785.6" stroke="#d8402a" stroke-width="4.2" stroke-linecap="square"/>
<rect x="184.9" y="1557.5" width="61.8" height="90.6" rx="1.5" fill="none" stroke="#d8402a" stroke-width="4.2" stroke-linejoin="round"/>
<line x1="184.9" y1="1610.6" x2="246.7" y2="1610.6" stroke="#d8402a" stroke-width="4.2" stroke-linecap="butt"/>
<line x1="294.4" y1="1400.8" x2="294.4" y2="1558.4" stroke="#d8402a" stroke-width="4.2" stroke-linecap="butt"/>
<line x1="294.4" y1="1648.1" x2="294.4" y2="1784.0" stroke="#d8402a" stroke-width="4.2" stroke-linecap="butt"/>
<line x1="280.4" y1="1400.8" x2="308.4" y2="1400.8" stroke="#d8402a" stroke-width="4.2" stroke-linecap="square"/>
<line x1="280.4" y1="1784.0" x2="308.4" y2="1784.0" stroke="#d8402a" stroke-width="4.2" stroke-linecap="square"/>
<rect x="263.5" y="1558.4" width="61.8" height="89.7" rx="1.5" fill="none" stroke="#d8402a" stroke-width="4.2" stroke-linejoin="round"/>
<line x1="263.5" y1="1612.7" x2="325.3" y2="1612.7" stroke="#d8402a" stroke-width="4.2" stroke-linecap="butt"/>
<line x1="373.0" y1="1399.6" x2="373.0" y2="1557.5" stroke="#d8402a" stroke-width="4.2" stroke-linecap="butt"/>
<line x1="373.0" y1="1648.8" x2="373.0" y2="1786.7" stroke="#d8402a" stroke-width="4.2" stroke-linecap="butt"/>
<line x1="359.0" y1="1399.6" x2="387.0" y2="1399.6" stroke="#d8402a" stroke-width="4.2" stroke-linecap="square"/>
<line x1="359.0" y1="1786.7" x2="387.0" y2="1786.7" stroke="#d8402a" stroke-width="4.2" stroke-linecap="square"/>
<rect x="342.1" y="1557.5" width="61.8" height="91.3" rx="1.5" fill="none" stroke="#d8402a" stroke-width="4.2" stroke-linejoin="round"/>
<line x1="342.1" y1="1613.0" x2="403.9" y2="1613.0" stroke="#d8402a" stroke-width="4.2" stroke-linecap="butt"/>
<line x1="451.6" y1="1400.8" x2="451.6" y2="1558.4" stroke="#d8402a" stroke-width="4.2" stroke-linecap="butt"/>
<line x1="451.6" y1="1647.6" x2="451.6" y2="1782.1" stroke="#d8402a" stroke-width="4.2" stroke-linecap="butt"/>
<line x1="437.6" y1="1400.8" x2="465.6" y2="1400.8" stroke="#d8402a" stroke-width="4.2" stroke-linecap="square"/>
<line x1="437.6" y1="1782.1" x2="465.6" y2="1782.1" stroke="#d8402a" stroke-width="4.2" stroke-linecap="square"/>
<rect x="420.7" y="1558.4" width="61.8" height="89.2" rx="1.5" fill="none" stroke="#d8402a" stroke-width="4.2" stroke-linejoin="round"/>
<line x1="420.7" y1="1614.6" x2="482.5" y2="1614.6" stroke="#d8402a" stroke-width="4.2" stroke-linecap="butt"/>
<line x1="530.2" y1="1403.1" x2="530.2" y2="1558.0" stroke="#d8402a" stroke-width="4.2" stroke-linecap="butt"/>
<line x1="530.2" y1="1648.1" x2="530.2" y2="1782.6" stroke="#d8402a" stroke-width="4.2" stroke-linecap="butt"/>
<line x1="516.2" y1="1403.1" x2="544.2" y2="1403.1" stroke="#d8402a" stroke-width="4.2" stroke-linecap="square"/>
<line x1="516.2" y1="1782.6" x2="544.2" y2="1782.6" stroke="#d8402a" stroke-width="4.2" stroke-linecap="square"/>
<rect x="499.3" y="1558.0" width="61.8" height="90.1" rx="1.5" fill="none" stroke="#d8402a" stroke-width="4.2" stroke-linejoin="round"/>
<line x1="499.3" y1="1613.4" x2="561.1" y2="1613.4" stroke="#d8402a" stroke-width="4.2" stroke-linecap="butt"/>
<line x1="608.8" y1="1400.8" x2="608.8" y2="1557.5" stroke="#d8402a" stroke-width="4.2" stroke-linecap="butt"/>
<line x1="608.8" y1="1647.6" x2="608.8" y2="1784.0" stroke="#d8402a" stroke-width="4.2" stroke-linecap="butt"/>
<line x1="594.8" y1="1400.8" x2="622.8" y2="1400.8" stroke="#d8402a" stroke-width="4.2" stroke-linecap="square"/>
<line x1="594.8" y1="1784.0" x2="622.8" y2="1784.0" stroke="#d8402a" stroke-width="4.2" stroke-linecap="square"/>
<rect x="577.9" y="1557.5" width="61.8" height="90.1" rx="1.5" fill="none" stroke="#d8402a" stroke-width="4.2" stroke-linejoin="round"/>
<line x1="577.9" y1="1610.6" x2="639.7" y2="1610.6" stroke="#d8402a" stroke-width="4.2" stroke-linecap="butt"/>
<line x1="687.4" y1="1397.8" x2="687.4" y2="1557.5" stroke="#d8402a" stroke-width="4.2" stroke-linecap="butt"/>
<line x1="687.4" y1="1647.6" x2="687.4" y2="1783.5" stroke="#d8402a" stroke-width="4.2" stroke-linecap="butt"/>
<line x1="673.4" y1="1397.8" x2="701.4" y2="1397.8" stroke="#d8402a" stroke-width="4.2" stroke-linecap="square"/>
<line x1="673.4" y1="1783.5" x2="701.4" y2="1783.5" stroke="#d8402a" stroke-width="4.2" stroke-linecap="square"/>
<rect x="656.5" y="1557.5" width="61.8" height="90.1" rx="1.5" fill="none" stroke="#d8402a" stroke-width="4.2" stroke-linejoin="round"/>
<line x1="656.5" y1="1611.8" x2="718.3" y2="1611.8" stroke="#d8402a" stroke-width="4.2" stroke-linecap="butt"/>
<line x1="766.0" y1="1397.8" x2="766.0" y2="1557.5" stroke="#d8402a" stroke-width="4.2" stroke-linecap="butt"/>
<line x1="766.0" y1="1647.6" x2="766.0" y2="1783.5" stroke="#d8402a" stroke-width="4.2" stroke-linecap="butt"/>
<line x1="752.0" y1="1397.8" x2="780.0" y2="1397.8" stroke="#d8402a" stroke-width="4.2" stroke-linecap="square"/>
<line x1="752.0" y1="1783.5" x2="780.0" y2="1783.5" stroke="#d8402a" stroke-width="4.2" stroke-linecap="square"/>
<rect x="735.1" y="1557.5" width="61.8" height="90.1" rx="1.5" fill="none" stroke="#d8402a" stroke-width="4.2" stroke-linejoin="round"/>
<line x1="735.1" y1="1612.3" x2="796.9" y2="1612.3" stroke="#d8402a" stroke-width="4.2" stroke-linecap="butt"/>
<line x1="844.6" y1="1402.0" x2="844.6" y2="1557.5" stroke="#d8402a" stroke-width="4.2" stroke-linecap="butt"/>
<line x1="844.6" y1="1647.6" x2="844.6" y2="1783.3" stroke="#d8402a" stroke-width="4.2" stroke-linecap="butt"/>
<line x1="830.6" y1="1402.0" x2="858.6" y2="1402.0" stroke="#d8402a" stroke-width="4.2" stroke-linecap="square"/>
<line x1="830.6" y1="1783.3" x2="858.6" y2="1783.3" stroke="#d8402a" stroke-width="4.2" stroke-linecap="square"/>
<rect x="813.7" y="1557.5" width="61.8" height="90.1" rx="1.5" fill="none" stroke="#d8402a" stroke-width="4.2" stroke-linejoin="round"/>
<line x1="813.7" y1="1615.3" x2="875.5" y2="1615.3" stroke="#d8402a" stroke-width="4.2" stroke-linecap="butt"/>
<line x1="923.2" y1="1398.5" x2="923.2" y2="1557.5" stroke="#d8402a" stroke-width="4.2" stroke-linecap="butt"/>
<line x1="923.2" y1="1648.5" x2="923.2" y2="1784.4" stroke="#d8402a" stroke-width="4.2" stroke-linecap="butt"/>
<line x1="909.2" y1="1398.5" x2="937.2" y2="1398.5" stroke="#d8402a" stroke-width="4.2" stroke-linecap="square"/>
<line x1="909.2" y1="1784.4" x2="937.2" y2="1784.4" stroke="#d8402a" stroke-width="4.2" stroke-linecap="square"/>
<rect x="892.3" y="1557.5" width="61.8" height="91.0" rx="1.5" fill="none" stroke="#d8402a" stroke-width="4.2" stroke-linejoin="round"/>
<line x1="892.3" y1="1611.6" x2="954.1" y2="1611.6" stroke="#d8402a" stroke-width="4.2" stroke-linecap="butt"/>
<line x1="1001.8" y1="1399.6" x2="1001.8" y2="1558.0" stroke="#d8402a" stroke-width="4.2" stroke-linecap="butt"/>
<line x1="1001.8" y1="1647.6" x2="1001.8" y2="1782.6" stroke="#d8402a" stroke-width="4.2" stroke-linecap="butt"/>
<line x1="987.8" y1="1399.6" x2="1015.8" y2="1399.6" stroke="#d8402a" stroke-width="4.2" stroke-linecap="square"/>
<line x1="987.8" y1="1782.6" x2="1015.8" y2="1782.6" stroke="#d8402a" stroke-width="4.2" stroke-linecap="square"/>
<rect x="970.9" y="1558.0" width="61.8" height="89.6" rx="1.5" fill="none" stroke="#d8402a" stroke-width="4.2" stroke-linejoin="round"/>
<line x1="970.9" y1="1613.4" x2="1032.7" y2="1613.4" stroke="#d8402a" stroke-width="4.2" stroke-linecap="butt"/>
<line x1="1080.4" y1="1402.0" x2="1080.4" y2="1558.0" stroke="#d8402a" stroke-width="4.2" stroke-linecap="butt"/>
<line x1="1080.4" y1="1648.1" x2="1080.4" y2="1784.4" stroke="#d8402a" stroke-width="4.2" stroke-linecap="butt"/>
<line x1="1066.4" y1="1402.0" x2="1094.4" y2="1402.0" stroke="#d8402a" stroke-width="4.2" stroke-linecap="square"/>
<line x1="1066.4" y1="1784.4" x2="1094.4" y2="1784.4" stroke="#d8402a" stroke-width="4.2" stroke-linecap="square"/>
<rect x="1049.5" y="1558.0" width="61.8" height="90.1" rx="1.5" fill="none" stroke="#d8402a" stroke-width="4.2" stroke-linejoin="round"/>
<line x1="1049.5" y1="1610.6" x2="1111.3" y2="1610.6" stroke="#d8402a" stroke-width="4.2" stroke-linecap="butt"/>
<line x1="1159.0" y1="1403.8" x2="1159.0" y2="1558.4" stroke="#3daac4" stroke-width="4.2" stroke-linecap="butt"/>
<line x1="1159.0" y1="1647.6" x2="1159.0" y2="1782.1" stroke="#3daac4" stroke-width="4.2" stroke-linecap="butt"/>
<line x1="1145.0" y1="1403.8" x2="1173.0" y2="1403.8" stroke="#3daac4" stroke-width="4.2" stroke-linecap="square"/>
<line x1="1145.0" y1="1782.1" x2="1173.0" y2="1782.1" stroke="#3daac4" stroke-width="4.2" stroke-linecap="square"/>
<rect x="1128.1" y="1558.4" width="61.8" height="89.2" rx="1.5" fill="none" stroke="#3daac4" stroke-width="4.2" stroke-linejoin="round"/>
<line x1="1128.1" y1="1611.8" x2="1189.9" y2="1611.8" stroke="#3daac4" stroke-width="4.2" stroke-linecap="butt"/>
<line x1="1237.6" y1="1399.0" x2="1237.6" y2="1558.6" stroke="#3daac4" stroke-width="4.2" stroke-linecap="butt"/>
<line x1="1237.6" y1="1646.5" x2="1237.6" y2="1778.0" stroke="#3daac4" stroke-width="4.2" stroke-linecap="butt"/>
<line x1="1223.6" y1="1399.0" x2="1251.6" y2="1399.0" stroke="#3daac4" stroke-width="4.2" stroke-linecap="square"/>
<line x1="1223.6" y1="1778.0" x2="1251.6" y2="1778.0" stroke="#3daac4" stroke-width="4.2" stroke-linecap="square"/>
<rect x="1206.7" y="1558.6" width="61.8" height="87.9" rx="1.5" fill="none" stroke="#3daac4" stroke-width="4.2" stroke-linejoin="round"/>
<line x1="1206.7" y1="1611.8" x2="1268.5" y2="1611.8" stroke="#3daac4" stroke-width="4.2" stroke-linecap="butt"/>
<line x1="1316.2" y1="1399.6" x2="1316.2" y2="1556.8" stroke="#3daac4" stroke-width="4.2" stroke-linecap="butt"/>
<line x1="1316.2" y1="1650.0" x2="1316.2" y2="1790.2" stroke="#3daac4" stroke-width="4.2" stroke-linecap="butt"/>
<line x1="1302.2" y1="1399.6" x2="1330.2" y2="1399.6" stroke="#3daac4" stroke-width="4.2" stroke-linecap="square"/>
<line x1="1302.2" y1="1790.2" x2="1330.2" y2="1790.2" stroke="#3daac4" stroke-width="4.2" stroke-linecap="square"/>
<rect x="1285.3" y="1556.8" width="61.8" height="93.2" rx="1.5" fill="none" stroke="#3daac4" stroke-width="4.2" stroke-linejoin="round"/>
<line x1="1285.3" y1="1613.4" x2="1347.1" y2="1613.4" stroke="#3daac4" stroke-width="4.2" stroke-linecap="butt"/>
<line x1="1394.8" y1="1396.2" x2="1394.8" y2="1558.0" stroke="#3daac4" stroke-width="4.2" stroke-linecap="butt"/>
<line x1="1394.8" y1="1649.2" x2="1394.8" y2="1787.9" stroke="#3daac4" stroke-width="4.2" stroke-linecap="butt"/>
<line x1="1380.8" y1="1396.2" x2="1408.8" y2="1396.2" stroke="#3daac4" stroke-width="4.2" stroke-linecap="square"/>
<line x1="1380.8" y1="1787.9" x2="1408.8" y2="1787.9" stroke="#3daac4" stroke-width="4.2" stroke-linecap="square"/>
<rect x="1363.9" y="1558.0" width="61.8" height="91.2" rx="1.5" fill="none" stroke="#3daac4" stroke-width="4.2" stroke-linejoin="round"/>
<line x1="1363.9" y1="1612.3" x2="1425.7" y2="1612.3" stroke="#3daac4" stroke-width="4.2" stroke-linecap="butt"/>
<line x1="1473.4" y1="1400.8" x2="1473.4" y2="1558.0" stroke="#3daac4" stroke-width="4.2" stroke-linecap="butt"/>
<line x1="1473.4" y1="1648.5" x2="1473.4" y2="1786.7" stroke="#3daac4" stroke-width="4.2" stroke-linecap="butt"/>
<line x1="1459.4" y1="1400.8" x2="1487.4" y2="1400.8" stroke="#3daac4" stroke-width="4.2" stroke-linecap="square"/>
<line x1="1459.4" y1="1786.7" x2="1487.4" y2="1786.7" stroke="#3daac4" stroke-width="4.2" stroke-linecap="square"/>
<rect x="1442.5" y="1558.0" width="61.8" height="90.5" rx="1.5" fill="none" stroke="#3daac4" stroke-width="4.2" stroke-linejoin="round"/>
<line x1="1442.5" y1="1611.8" x2="1504.3" y2="1611.8" stroke="#3daac4" stroke-width="4.2" stroke-linecap="butt"/>
<line x1="1552.0" y1="1404.7" x2="1552.0" y2="1557.5" stroke="#3daac4" stroke-width="4.2" stroke-linecap="butt"/>
<line x1="1552.0" y1="1648.5" x2="1552.0" y2="1786.3" stroke="#3daac4" stroke-width="4.2" stroke-linecap="butt"/>
<line x1="1538.0" y1="1404.7" x2="1566.0" y2="1404.7" stroke="#3daac4" stroke-width="4.2" stroke-linecap="square"/>
<line x1="1538.0" y1="1786.3" x2="1566.0" y2="1786.3" stroke="#3daac4" stroke-width="4.2" stroke-linecap="square"/>
<rect x="1521.1" y="1557.5" width="61.8" height="91.0" rx="1.5" fill="none" stroke="#3daac4" stroke-width="4.2" stroke-linejoin="round"/>
<line x1="1521.1" y1="1613.4" x2="1582.9" y2="1613.4" stroke="#3daac4" stroke-width="4.2" stroke-linecap="butt"/>
<line x1="1630.6" y1="1399.6" x2="1630.6" y2="1558.0" stroke="#3daac4" stroke-width="4.2" stroke-linecap="butt"/>
<line x1="1630.6" y1="1648.1" x2="1630.6" y2="1783.3" stroke="#3daac4" stroke-width="4.2" stroke-linecap="butt"/>
<line x1="1616.6" y1="1399.6" x2="1644.6" y2="1399.6" stroke="#3daac4" stroke-width="4.2" stroke-linecap="square"/>
<line x1="1616.6" y1="1783.3" x2="1644.6" y2="1783.3" stroke="#3daac4" stroke-width="4.2" stroke-linecap="square"/>
<rect x="1599.7" y="1558.0" width="61.8" height="90.1" rx="1.5" fill="none" stroke="#3daac4" stroke-width="4.2" stroke-linejoin="round"/>
<line x1="1599.7" y1="1612.3" x2="1661.5" y2="1612.3" stroke="#3daac4" stroke-width="4.2" stroke-linecap="butt"/>
<line x1="1709.2" y1="1401.3" x2="1709.2" y2="1559.1" stroke="#3daac4" stroke-width="4.2" stroke-linecap="butt"/>
<line x1="1709.2" y1="1648.1" x2="1709.2" y2="1781.0" stroke="#3daac4" stroke-width="4.2" stroke-linecap="butt"/>
<line x1="1695.2" y1="1401.3" x2="1723.2" y2="1401.3" stroke="#3daac4" stroke-width="4.2" stroke-linecap="square"/>
<line x1="1695.2" y1="1781.0" x2="1723.2" y2="1781.0" stroke="#3daac4" stroke-width="4.2" stroke-linecap="square"/>
<rect x="1678.3" y="1559.1" width="61.8" height="89.0" rx="1.5" fill="none" stroke="#3daac4" stroke-width="4.2" stroke-linejoin="round"/>
<line x1="1678.3" y1="1613.4" x2="1740.1" y2="1613.4" stroke="#3daac4" stroke-width="4.2" stroke-linecap="butt"/>
<rect x="153.0" y="1367.2" width="1620.4" height="446.7" fill="none" stroke="#000" stroke-width="4.6"/>
<circle cx="1812.7" cy="1431.0" r="14.6" fill="#d9482f" stroke="#d43d27" stroke-width="1.2"/>
<circle cx="1812.7" cy="1480.5" r="14.6" fill="#45b0ca" stroke="#3aa8c3" stroke-width="1.2"/>
<text transform="translate(224.60,1844.5) rotate(-45)" font-size="32.4" text-anchor="end" font-family="'Liberation Serif', 'Times New Roman', serif" textLength="166" lengthAdjust="spacingAndGlyphs">GSM3517981</text>
<text transform="translate(303.20,1844.5) rotate(-45)" font-size="32.4" text-anchor="end" font-family="'Liberation Serif', 'Times New Roman', serif" textLength="166" lengthAdjust="spacingAndGlyphs">GSM3517982</text>
<text transform="translate(381.80,1844.5) rotate(-45)" font-size="32.4" text-anchor="end" font-family="'Liberation Serif', 'Times New Roman', serif" textLength="166" lengthAdjust="spacingAndGlyphs">GSM3517983</text>
<text transform="translate(460.40,1844.5) rotate(-45)" font-size="32.4" text-anchor="end" font-family="'Liberation Serif', 'Times New Roman', serif" textLength="166" lengthAdjust="spacingAndGlyphs">GSM3517984</text>
<text transform="translate(539.00,1844.5) rotate(-45)" font-size="32.4" text-anchor="end" font-family="'Liberation Serif', 'Times New Roman', serif" textLength="166" lengthAdjust="spacingAndGlyphs">GSM3517985</text>
<text transform="translate(617.60,1844.5) rotate(-45)" font-size="32.4" text-anchor="end" font-family="'Liberation Serif', 'Times New Roman', serif" textLength="166" lengthAdjust="spacingAndGlyphs">GSM3517986</text>
<text transform="translate(696.20,1844.5) rotate(-45)" font-size="32.4" text-anchor="end" font-family="'Liberation Serif', 'Times New Roman', serif" textLength="166" lengthAdjust="spacingAndGlyphs">GSM3517993</text>
<text transform="translate(774.80,1844.5) rotate(-45)" font-size="32.4" text-anchor="end" font-family="'Liberation Serif', 'Times New Roman', serif" textLength="166" lengthAdjust="spacingAndGlyphs">GSM3517994</text>
<text transform="translate(853.40,1844.5) rotate(-45)" font-size="32.4" text-anchor="end" font-family="'Liberation Serif', 'Times New Roman', serif" textLength="166" lengthAdjust="spacingAndGlyphs">GSM3517995</text>
<text transform="translate(932.00,1844.5) rotate(-45)" font-size="32.4" text-anchor="end" font-family="'Liberation Serif', 'Times New Roman', serif" textLength="166" lengthAdjust="spacingAndGlyphs">GSM3517996</text>
<text transform="translate(1010.60,1844.5) rotate(-45)" font-size="32.4" text-anchor="end" font-family="'Liberation Serif', 'Times New Roman', serif" textLength="166" lengthAdjust="spacingAndGlyphs">GSM3517997</text>
<text transform="translate(1089.20,1844.5) rotate(-45)" font-size="32.4" text-anchor="end" font-family="'Liberation Serif', 'Times New Roman', serif" textLength="166" lengthAdjust="spacingAndGlyphs">GSM3517998</text>
<text transform="translate(1167.80,1844.5) rotate(-45)" font-size="32.4" text-anchor="end" font-family="'Liberation Serif', 'Times New Roman', serif" textLength="166" lengthAdjust="spacingAndGlyphs">GSM4700335</text>
<text transform="translate(1246.40,1844.5) rotate(-45)" font-size="32.4" text-anchor="end" font-family="'Liberation Serif', 'Times New Roman', serif" textLength="166" lengthAdjust="spacingAndGlyphs">GSM4700336</text>
<text transform="translate(1325.00,1844.5) rotate(-45)" font-size="32.4" text-anchor="end" font-family="'Liberation Serif', 'Times New Roman', serif" textLength="166" lengthAdjust="spacingAndGlyphs">GSM4700337</text>
<text transform="translate(1403.60,1844.5) rotate(-45)" font-size="32.4" text-anchor="end" font-family="'Liberation Serif', 'Times New Roman', serif" textLength="166" lengthAdjust="spacingAndGlyphs">GSM4700338</text>
<text transform="translate(1482.20,1844.5) rotate(-45)" font-size="32.4" text-anchor="end" font-family="'Liberation Serif', 'Times New Roman', serif" textLength="166" lengthAdjust="spacingAndGlyphs">GSM4700339</text>
<text transform="translate(1560.80,1844.5) rotate(-45)" font-size="32.4" text-anchor="end" font-family="'Liberation Serif', 'Times New Roman', serif" textLength="166" lengthAdjust="spacingAndGlyphs">GSM4700340</text>
<text transform="translate(1639.40,1844.5) rotate(-45)" font-size="32.4" text-anchor="end" font-family="'Liberation Serif', 'Times New Roman', serif" textLength="166" lengthAdjust="spacingAndGlyphs">GSM4700341</text>
<text transform="translate(1718.00,1844.5) rotate(-45)" font-size="32.4" text-anchor="end" font-family="'Liberation Serif', 'Times New Roman', serif" textLength="166" lengthAdjust="spacingAndGlyphs">GSM4700342</text>
<text x="111.55" y="45.38" font-size="26.4" font-family="'Liberation Serif', 'Times New Roman', serif" textLength="14.13" lengthAdjust="spacingAndGlyphs">2</text>
<text x="91.08" y="83.9" font-size="26.4" font-family="'Liberation Serif', 'Times New Roman', serif" textLength="34.23" lengthAdjust="spacingAndGlyphs">1.5</text>
<text x="112.66" y="126.74" font-size="26.4" font-family="'Liberation Serif', 'Times New Roman', serif" textLength="10.79" lengthAdjust="spacingAndGlyphs">1</text>
<text x="91.42" y="177.65" font-size="26.4" font-family="'Liberation Serif', 'Times New Roman', serif" textLength="33.66" lengthAdjust="spacingAndGlyphs">0.5</text>
<text x="111.4" y="229.99" font-size="26.4" font-family="'Liberation Serif', 'Times New Roman', serif" textLength="13.72" lengthAdjust="spacingAndGlyphs">0</text>
<text x="81.4" y="287.3" font-size="26.4" font-family="'Liberation Serif', 'Times New Roman', serif" textLength="43.7" lengthAdjust="spacingAndGlyphs">-0.5</text>
<text x="101.83" y="342.78" font-size="26.4" font-family="'Liberation Serif', 'Times New Roman', serif" textLength="22.15" lengthAdjust="spacingAndGlyphs">-1</text>
<text x="81.5" y="398.35" font-size="26.4" font-family="'Liberation Serif', 'Times New Roman', serif" textLength="43.7" lengthAdjust="spacingAndGlyphs">-1.5</text>
<text x="101.41" y="448.22" font-size="26.4" font-family="'Liberation Serif', 'Times New Roman', serif" textLength="24.25" lengthAdjust="spacingAndGlyphs">-2</text>
<text x="198.16" y="516.75" font-size="26.4" font-family="'Liberation Serif', 'Times New Roman', serif" textLength="36.96" lengthAdjust="spacingAndGlyphs">-10</text>
<text x="310.37" y="517.0" font-size="26.4" font-family="'Liberation Serif', 'Times New Roman', serif" textLength="24.65" lengthAdjust="spacingAndGlyphs">-5</text>
<text x="421.18" y="517.0" font-size="26.4" font-family="'Liberation Serif', 'Times New Roman', serif" textLength="14.25" lengthAdjust="spacingAndGlyphs">0</text>
<text x="526.87" y="517.0" font-size="26.4" font-family="'Liberation Serif', 'Times New Roman', serif" textLength="14.65" lengthAdjust="spacingAndGlyphs">5</text>
<text x="627.1" y="516.66" font-size="26.4" font-family="'Liberation Serif', 'Times New Roman', serif" textLength="26.79" lengthAdjust="spacingAndGlyphs">10</text>
<text x="733.31" y="516.7" font-size="26.4" font-family="'Liberation Serif', 'Times New Roman', serif" textLength="26.28" lengthAdjust="spacingAndGlyphs">15</text>
<text x="428.92" y="560.0" font-size="29.44" font-family="'Liberation Serif', 'Times New Roman', serif" textLength="93.95" lengthAdjust="spacingAndGlyphs">UMAP1</text>
<text transform="translate(62.9,271.48) rotate(-90)" font-size="29.44" font-family="'Liberation Serif', 'Times New Roman', serif" textLength="95.19" lengthAdjust="spacingAndGlyphs">UMAP2</text>
<text x="839.88" y="58.45" font-size="26.35" font-family="'Liberation Serif', 'Times New Roman', serif" textLength="81.58" lengthAdjust="spacingAndGlyphs">DataSet</text>
<text x="873.81" y="98.95" font-size="26.35" font-family="'Liberation Serif', 'Times New Roman', serif" textLength="125.45" lengthAdjust="spacingAndGlyphs">GSE123975</text>
<text x="873.84" y="141.85" font-size="26.35" font-family="'Liberation Serif', 'Times New Roman', serif" textLength="125.93" lengthAdjust="spacingAndGlyphs">GSE155377</text>
<text x="2.26" y="41.05" font-size="51.42" font-family="'Liberation Sans', Arial, sans-serif" textLength="36.6" lengthAdjust="spacingAndGlyphs">A</text>
<text x="1123.28" y="56.43" font-size="25.26" font-family="'Liberation Serif', 'Times New Roman', serif" textLength="15.08" lengthAdjust="spacingAndGlyphs">2</text>
<text x="1105.25" y="108.95" font-size="25.26" font-family="'Liberation Serif', 'Times New Roman', serif" textLength="32.31" lengthAdjust="spacingAndGlyphs">1.5</text>
<text x="1125.81" y="151.84" font-size="25.26" font-family="'Liberation Serif', 'Times New Roman', serif" textLength="10.28" lengthAdjust="spacingAndGlyphs">1</text>
<text x="1104.62" y="202.5" font-size="25.26" font-family="'Liberation Serif', 'Times New Roman', serif" textLength="33.14" lengthAdjust="spacingAndGlyphs">0.5</text>
<text x="1124.19" y="255.26" font-size="25.26" font-family="'Liberation Serif', 'Times New Roman', serif" textLength="14.14" lengthAdjust="spacingAndGlyphs">0</text>
<text x="1093.88" y="312.7" font-size="25.26" font-family="'Liberation Serif', 'Times New Roman', serif" textLength="44.49" lengthAdjust="spacingAndGlyphs">-0.5</text>
<text x="1114.36" y="368.06" font-size="25.26" font-family="'Liberation Serif', 'Times New Roman', serif" textLength="22.03" lengthAdjust="spacingAndGlyphs">-1</text>
<text x="1093.88" y="423.35" font-size="25.26" font-family="'Liberation Serif', 'Times New Roman', serif" textLength="44.49" lengthAdjust="spacingAndGlyphs">-1.5</text>
<text x="1114.39" y="473.78" font-size="25.26" font-family="'Liberation Serif', 'Times New Roman', serif" textLength="24.51" lengthAdjust="spacingAndGlyphs">-2</text>
<text x="1200.77" y="510.75" font-size="25.26" font-family="'Liberation Serif', 'Times New Roman', serif" textLength="44.29" lengthAdjust="spacingAndGlyphs">-1.5</text>
<text x="1311.24" y="510.69" font-size="25.26" font-family="'Liberation Serif', 'Times New Roman', serif" textLength="22.68" lengthAdjust="spacingAndGlyphs">-1</text>
<text x="1400.9" y="510.75" font-size="25.26" font-family="'Liberation Serif', 'Times New Roman', serif" textLength="43.68" lengthAdjust="spacingAndGlyphs">-0.5</text>
<text x="1514.89" y="510.74" font-size="25.26" font-family="'Liberation Serif', 'Times New Roman', serif" textLength="13.93" lengthAdjust="spacingAndGlyphs">0</text>
<text x="1604.47" y="510.75" font-size="25.26" font-family="'Liberation Serif', 'Times New Roman', serif" textLength="33.68" lengthAdjust="spacingAndGlyphs">0.5</text>
<text x="1705.2" y="510.72" font-size="25.26" font-family="'Liberation Serif', 'Times New Roman', serif" textLength="33.26" lengthAdjust="spacingAndGlyphs">1.0</text>
<text x="1804.74" y="510.75" font-size="25.26" font-family="'Liberation Serif', 'Times New Roman', serif" textLength="32.75" lengthAdjust="spacingAndGlyphs">1.5</text>
<text x="1441.12" y="554.1" font-size="26.99" font-family="'Liberation Serif', 'Times New Roman', serif" textLength="93.5" lengthAdjust="spacingAndGlyphs">UMAP1</text>
<text transform="translate(1073.8,265.17) rotate(-90)" font-size="26.99" font-family="'Liberation Serif', 'Times New Roman', serif" textLength="95.98" lengthAdjust="spacingAndGlyphs">UMAP2</text>
<text x="1848.14" y="54.6" font-size="27.34" font-family="'Liberation Serif', 'Times New Roman', serif" textLength="80.98" lengthAdjust="spacingAndGlyphs">DataSet</text>
<text x="1881.73" y="95.45" font-size="27.34" font-family="'Liberation Serif', 'Times New Roman', serif" textLength="123.88" lengthAdjust="spacingAndGlyphs">GSE123975</text>
<text x="1881.83" y="138.5" font-size="27.34" font-family="'Liberation Serif', 'Times New Roman', serif" textLength="123.46" lengthAdjust="spacingAndGlyphs">GSE155377</text>
<text x="1022.23" y="40.0" font-size="55.0" font-family="'Liberation Sans', Arial, sans-serif" textLength="37.94" lengthAdjust="spacingAndGlyphs">B</text>
<text x="91.98" y="675.13" font-size="32.37" font-family="'Liberation Serif', 'Times New Roman', serif" textLength="30.29" lengthAdjust="spacingAndGlyphs">20</text>
<text x="92.75" y="768.45" font-size="32.37" font-family="'Liberation Serif', 'Times New Roman', serif" textLength="28.42" lengthAdjust="spacingAndGlyphs">15</text>
<text x="94.05" y="861.2" font-size="32.37" font-family="'Liberation Serif', 'Times New Roman', serif" textLength="28.99" lengthAdjust="spacingAndGlyphs">10</text>
<text x="107.31" y="954.16" font-size="32.37" font-family="'Liberation Serif', 'Times New Roman', serif" textLength="15.91" lengthAdjust="spacingAndGlyphs">5</text>
<text x="107.25" y="1047.14" font-size="32.37" font-family="'Liberation Serif', 'Times New Roman', serif" textLength="15.92" lengthAdjust="spacingAndGlyphs">0</text>
<text transform="translate(77.75,978.5) rotate(-90)" font-size="31.91" font-family="'Liberation Serif', 'Times New Roman', serif" textLength="132.58" lengthAdjust="spacingAndGlyphs">Expression</text>
<text x="1787.98" y="694.15" font-size="32.4" font-family="'Liberation Serif', 'Times New Roman', serif" textLength="94.23" lengthAdjust="spacingAndGlyphs">DataSet</text>
<text x="1825.32" y="743.2" font-size="32.4" font-family="'Liberation Serif', 'Times New Roman', serif" textLength="144.33" lengthAdjust="spacingAndGlyphs">GSE123975</text>
<text x="1825.32" y="792.9" font-size="32.4" font-family="'Liberation Serif', 'Times New Roman', serif" textLength="144.06" lengthAdjust="spacingAndGlyphs">GSE155377</text>
<text x="1.49" y="675.41" font-size="56.67" font-family="'Liberation Sans', Arial, sans-serif" textLength="41.04" lengthAdjust="spacingAndGlyphs">C</text>
<text x="99.95" y="1423.55" font-size="32.37" font-family="'Liberation Serif', 'Times New Roman', serif" textLength="28.42" lengthAdjust="spacingAndGlyphs">15</text>
<text x="99.88" y="1534.93" font-size="32.37" font-family="'Liberation Serif', 'Times New Roman', serif" textLength="29.52" lengthAdjust="spacingAndGlyphs">10</text>
<text x="114.71" y="1646.58" font-size="32.37" font-family="'Liberation Serif', 'Times New Roman', serif" textLength="13.17" lengthAdjust="spacingAndGlyphs">5</text>
<text x="114.39" y="1758.34" font-size="32.37" font-family="'Liberation Serif', 'Times New Roman', serif" textLength="14.37" lengthAdjust="spacingAndGlyphs">0</text>
<text transform="translate(86.4,1681.63) rotate(-90)" font-size="31.91" font-family="'Liberation Serif', 'Times New Roman', serif" textLength="132.4" lengthAdjust="spacingAndGlyphs">Expression</text>
<text x="1797.99" y="1397.6" font-size="32.4" font-family="'Liberation Serif', 'Times New Roman', serif" textLength="93.76" lengthAdjust="spacingAndGlyphs">DataSet</text>
<text x="1834.63" y="1446.2" font-size="32.4" font-family="'Liberation Serif', 'Times New Roman', serif" textLength="144.72" lengthAdjust="spacingAndGlyphs">GSE123975</text>
<text x="1834.72" y="1496.0" font-size="32.4" font-family="'Liberation Serif', 'Times New Roman', serif" textLength="144.34" lengthAdjust="spacingAndGlyphs">GSE155377</text>
<text x="1.51" y="1384.9" font-size="57.47" font-family="'Liberation Sans', Arial, sans-serif" textLength="41.29" lengthAdjust="spacingAndGlyphs">D</text>
</svg>
</body></html>
